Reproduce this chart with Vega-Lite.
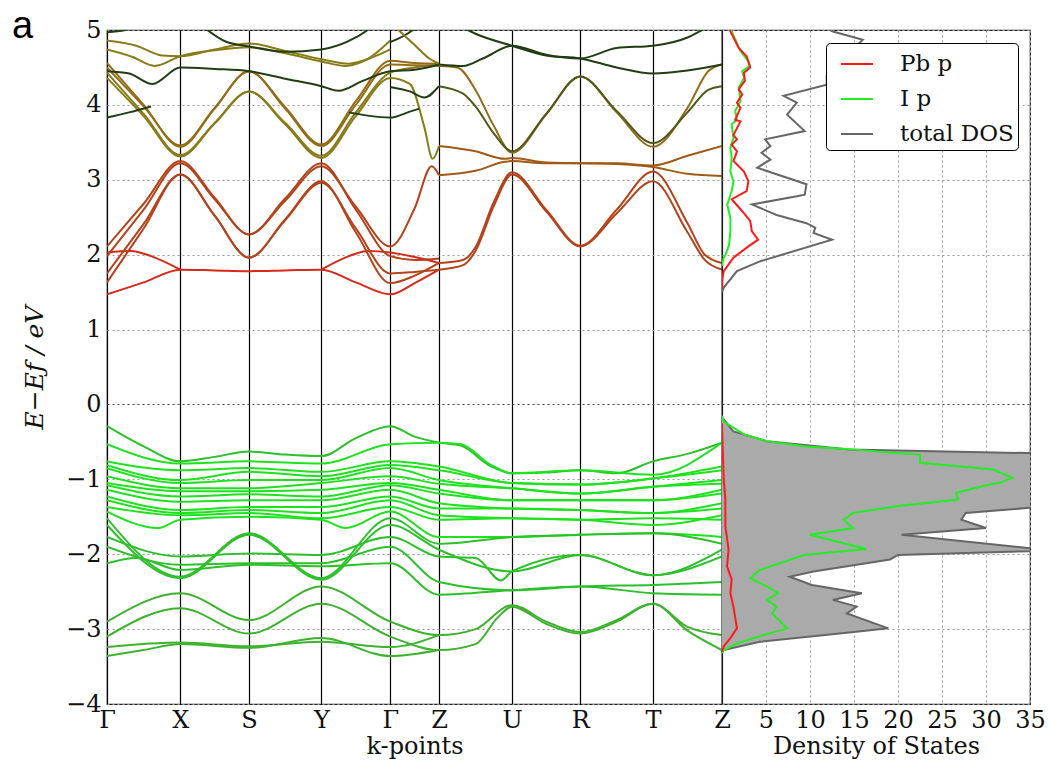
{
"$schema":"https://vega.github.io/schema/vega-lite/v6.json",
"background":"white",
"padding":{"left":12,"top":8,"right":0,"bottom":0},
"bounds":"flush",
"title":{"text":"a","anchor":"start","frame":"bounds","font":"Liberation Sans","fontSize":38,"fontWeight":"normal","color":"#000","offset":-29,"dx":-10},
"config":{"view":{"stroke":"#222","strokeWidth":1.2},"font":"DejaVu Serif",
"axis":{"labelFont":"DejaVu Serif","labelFontSize":24,"labelColor":"#111","titleFont":"DejaVu Serif","titleFontSize":24,"titleFontWeight":"normal","titleColor":"#111"}},
"spacing":0,
"resolve":{"scale":{"color":"independent","x":"independent","y":"independent"}},
"datasets":{
"bands":[
{"b":"L1","ch":"c1","k":0,"e":1.47},{"b":"L1","ch":"c1","k":0.5,"e":1.63},{"b":"L1","ch":"c1","k":1,"e":1.8},{"b":"L1","ch":"c1","k":1.5,"e":1.79},{"b":"L1","ch":"c1","k":2,"e":1.78},{"b":"L1","ch":"c1","k":2.5,"e":1.79},{"b":"L1","ch":"c1","k":3,"e":1.8},{"b":"L1","ch":"c1","k":3.5,"e":1.63},{"b":"L1","ch":"c1","k":4,"e":1.47},{"b":"L1","ch":"c1","k":4.5,"e":1.62},{"b":"L1","ch":"c1","k":5,"e":1.8},
{"b":"L2a","ch":"c1","k":0,"e":2.03},{"b":"L2a","ch":"c1","k":0.33,"e":2.05},{"b":"L2a","ch":"c1","k":0.6,"e":1.98},{"b":"L2a","ch":"c1","k":1,"e":1.8},
{"b":"L2b","ch":"c1","k":3,"e":1.8},{"b":"L2b","ch":"c1","k":3.4,"e":1.98},{"b":"L2b","ch":"c1","k":3.67,"e":2.05},{"b":"L2b","ch":"c1","k":4,"e":2.03},{"b":"L2b","ch":"c1","k":4.5,"e":1.97},{"b":"L2b","ch":"c1","k":5,"e":1.89},
{"b":"R1","ch":"c2","k":0,"e":1.63},{"b":"R1","ch":"c2","k":0.5,"e":2.35},{"b":"R1","ch":"c2","k":1,"e":3.07},{"b":"R1","ch":"c2","k":1.5,"e":2.52},{"b":"R1","ch":"c2","k":2,"e":1.96},{"b":"R1","ch":"c2","k":2.5,"e":2.46},{"b":"R1","ch":"c2","k":3,"e":2.96},{"b":"R1","ch":"c2","k":3.5,"e":2.35},{"b":"R1","ch":"c2","k":4,"e":1.75},{"b":"R1","ch":"c2","k":4.5,"e":1.77},{"b":"R1","ch":"c2","k":5,"e":1.8},
{"b":"R2","ch":"c2","k":0,"e":1.75},{"b":"R2","ch":"c2","k":0.5,"e":2.41},{"b":"R2","ch":"c2","k":1,"e":3.07},{"b":"R2","ch":"c2","k":1.5,"e":2.52},{"b":"R2","ch":"c2","k":2,"e":1.96},{"b":"R2","ch":"c2","k":2.5,"e":2.47},{"b":"R2","ch":"c2","k":3,"e":2.98},{"b":"R2","ch":"c2","k":3.5,"e":2.3},{"b":"R2","ch":"c2","k":4,"e":1.62},{"b":"R2","ch":"c2","k":4.5,"e":1.72},{"b":"R2","ch":"c2","k":5,"e":1.89},
{"b":"R3","ch":"c2","k":0,"e":1.98},{"b":"R3","ch":"c2","k":0.5,"e":2.6},{"b":"R3","ch":"c2","k":1,"e":3.22},{"b":"R3","ch":"c2","k":1.5,"e":2.74},{"b":"R3","ch":"c2","k":2,"e":2.27},{"b":"R3","ch":"c2","k":2.5,"e":2.72},{"b":"R3","ch":"c2","k":3,"e":3.18},{"b":"R3","ch":"c2","k":3.5,"e":2.64},{"b":"R3","ch":"c2","k":4,"e":2.11},{"b":"R3","ch":"c2","k":4.5,"e":2.62},{"b":"R3","ch":"c2","k":4.85,"e":3.18},{"b":"R3","ch":"c2","k":5,"e":3.06},
{"b":"R4","ch":"c2","k":0,"e":2.11},{"b":"R4","ch":"c2","k":0.5,"e":2.68},{"b":"R4","ch":"c2","k":1,"e":3.25},{"b":"R4","ch":"c2","k":1.5,"e":2.76},{"b":"R4","ch":"c2","k":2,"e":2.27},{"b":"R4","ch":"c2","k":2.5,"e":2.75},{"b":"R4","ch":"c2","k":3,"e":3.22},{"b":"R4","ch":"c2","k":3.5,"e":2.6},{"b":"R4","ch":"c2","k":4,"e":1.98},{"b":"R4","ch":"c2","k":4.5,"e":1.93},{"b":"R4","ch":"c2","k":5,"e":1.95},
{"b":"P7","ch":"c2","k":5,"e":1.8},{"b":"P7","ch":"c2","k":5.33,"e":1.86},{"b":"P7","ch":"c2","k":5.5,"e":2.05},{"b":"P7","ch":"c2","k":5.75,"e":2.65},{"b":"P7","ch":"c2","k":6,"e":3.07},{"b":"P7","ch":"c2","k":6.5,"e":2.58},{"b":"P7","ch":"c2","k":7,"e":2.11},{"b":"P7","ch":"c2","k":7.5,"e":2.55},{"b":"P7","ch":"c2","k":8,"e":2.98},{"b":"P7","ch":"c2","k":8.5,"e":2.3},{"b":"P7","ch":"c2","k":8.75,"e":1.93},{"b":"P7","ch":"c2","k":9,"e":1.8},
{"b":"P8","ch":"c2","k":5,"e":1.89},{"b":"P8","ch":"c2","k":5.33,"e":1.93},{"b":"P8","ch":"c2","k":5.5,"e":2.1},{"b":"P8","ch":"c2","k":5.75,"e":2.7},{"b":"P8","ch":"c2","k":6,"e":3.1},{"b":"P8","ch":"c2","k":6.5,"e":2.6},{"b":"P8","ch":"c2","k":7,"e":2.12},{"b":"P8","ch":"c2","k":7.5,"e":2.6},{"b":"P8","ch":"c2","k":8,"e":3.11},{"b":"P8","ch":"c2","k":8.5,"e":2.42},{"b":"P8","ch":"c2","k":8.75,"e":2.0},{"b":"P8","ch":"c2","k":9,"e":1.89},
{"b":"P9","ch":"c3","k":5,"e":3.06},{"b":"P9","ch":"c3","k":5.5,"e":3.12},{"b":"P9","ch":"c3","k":5.9,"e":3.24},{"b":"P9","ch":"c3","k":6,"e":3.25},{"b":"P9","ch":"c3","k":6.5,"e":3.22},{"b":"P9","ch":"c3","k":7,"e":3.22},{"b":"P9","ch":"c3","k":7.5,"e":3.21},{"b":"P9","ch":"c3","k":8,"e":3.17},{"b":"P9","ch":"c3","k":8.5,"e":3.08},{"b":"P9","ch":"c3","k":9,"e":3.05},
{"b":"P10","ch":"c3","k":5,"e":3.45},{"b":"P10","ch":"c3","k":5.5,"e":3.38},{"b":"P10","ch":"c3","k":5.9,"e":3.28},{"b":"P10","ch":"c3","k":6,"e":3.29},{"b":"P10","ch":"c3","k":6.5,"e":3.23},{"b":"P10","ch":"c3","k":7,"e":3.22},{"b":"P10","ch":"c3","k":7.5,"e":3.22},{"b":"P10","ch":"c3","k":8,"e":3.19},{"b":"P10","ch":"c3","k":8.5,"e":3.32},{"b":"P10","ch":"c3","k":9,"e":3.45},
{"b":"P11","ch":"c4","k":5,"e":4.52},{"b":"P11","ch":"c4","k":5.25,"e":4.5},{"b":"P11","ch":"c4","k":5.5,"e":4.2},{"b":"P11","ch":"c4","k":5.75,"e":3.72},{"b":"P11","ch":"c4","k":6,"e":3.36},{"b":"P11","ch":"c4","k":6.5,"e":3.87},{"b":"P11","ch":"c4","k":7,"e":4.38},{"b":"P11","ch":"c4","k":7.5,"e":3.9},{"b":"P11","ch":"c4","k":8,"e":3.44},{"b":"P11","ch":"c4","k":8.5,"e":3.96},{"b":"P11","ch":"c4","k":8.8,"e":4.45},{"b":"P11","ch":"c4","k":9,"e":4.54},
{"b":"P12","ch":"c6","k":5,"e":4.25},{"b":"P12","ch":"c6","k":5.33,"e":4.15},{"b":"P12","ch":"c6","k":5.5,"e":3.98},{"b":"P12","ch":"c6","k":5.75,"e":3.62},{"b":"P12","ch":"c6","k":6,"e":3.38},{"b":"P12","ch":"c6","k":6.5,"e":3.88},{"b":"P12","ch":"c6","k":7,"e":4.38},{"b":"P12","ch":"c6","k":7.5,"e":3.92},{"b":"P12","ch":"c6","k":8,"e":3.49},{"b":"P12","ch":"c6","k":8.5,"e":3.9},{"b":"P12","ch":"c6","k":8.8,"e":4.2},{"b":"P12","ch":"c6","k":9,"e":4.25},
{"b":"P13","ch":"c7","k":5.35,"e":5.02},{"b":"P13","ch":"c7","k":5.5,"e":4.95},{"b":"P13","ch":"c7","k":6,"e":4.79},{"b":"P13","ch":"c7","k":6.5,"e":4.66},{"b":"P13","ch":"c7","k":7,"e":4.62},{"b":"P13","ch":"c7","k":7.5,"e":4.5},{"b":"P13","ch":"c7","k":8,"e":4.42},{"b":"P13","ch":"c7","k":8.5,"e":4.46},{"b":"P13","ch":"c7","k":9,"e":4.54},
{"b":"P14","ch":"c7","k":5,"e":4.54},{"b":"P14","ch":"c7","k":5.33,"e":4.52},{"b":"P14","ch":"c7","k":5.6,"e":4.62},{"b":"P14","ch":"c7","k":6,"e":4.79},{"b":"P14","ch":"c7","k":6.5,"e":4.67},{"b":"P14","ch":"c7","k":7,"e":4.62},{"b":"P14","ch":"c7","k":7.5,"e":4.76},{"b":"P14","ch":"c7","k":8,"e":4.79},{"b":"P14","ch":"c7","k":8.5,"e":4.9},{"b":"P14","ch":"c7","k":8.75,"e":5.02},
{"b":"D1","ch":"c5","k":0,"e":4.36},{"b":"D1","ch":"c5","k":0.5,"e":3.85},{"b":"D1","ch":"c5","k":1,"e":3.31},{"b":"D1","ch":"c5","k":1.5,"e":3.75},{"b":"D1","ch":"c5","k":2,"e":4.18},{"b":"D1","ch":"c5","k":2.5,"e":3.74},{"b":"D1","ch":"c5","k":3,"e":3.29},{"b":"D1","ch":"c5","k":3.5,"e":3.85},{"b":"D1","ch":"c5","k":4,"e":4.36},{"b":"D1","ch":"c5","k":4.4,"e":4.28},{"b":"D1","ch":"c5","k":4.7,"e":3.7},{"b":"D1","ch":"c5","k":4.87,"e":3.28},{"b":"D1","ch":"c5","k":5,"e":3.45},
{"b":"D2","ch":"c5","k":0,"e":4.43},{"b":"D2","ch":"c5","k":0.5,"e":3.88},{"b":"D2","ch":"c5","k":1,"e":3.33},{"b":"D2","ch":"c5","k":1.5,"e":3.76},{"b":"D2","ch":"c5","k":2,"e":4.18},{"b":"D2","ch":"c5","k":2.5,"e":3.76},{"b":"D2","ch":"c5","k":3,"e":3.32},{"b":"D2","ch":"c5","k":3.5,"e":3.9},{"b":"D2","ch":"c5","k":4,"e":4.43},{"b":"D2","ch":"c5","k":4.5,"e":4.5},{"b":"D2","ch":"c5","k":5,"e":4.54},
{"b":"D3","ch":"c4","k":0,"e":4.56},{"b":"D3","ch":"c4","k":0.5,"e":4.0},{"b":"D3","ch":"c4","k":1,"e":3.44},{"b":"D3","ch":"c4","k":1.5,"e":3.95},{"b":"D3","ch":"c4","k":2,"e":4.45},{"b":"D3","ch":"c4","k":2.5,"e":3.95},{"b":"D3","ch":"c4","k":3,"e":3.45},{"b":"D3","ch":"c4","k":3.5,"e":4.0},{"b":"D3","ch":"c4","k":4,"e":4.54},{"b":"D3","ch":"c4","k":4.5,"e":4.53},{"b":"D3","ch":"c4","k":5,"e":4.52},
{"b":"D4","ch":"c4","k":0,"e":4.5},{"b":"D4","ch":"c4","k":0.5,"e":3.98},{"b":"D4","ch":"c4","k":1,"e":3.46},{"b":"D4","ch":"c4","k":1.5,"e":3.96},{"b":"D4","ch":"c4","k":2,"e":4.45},{"b":"D4","ch":"c4","k":2.5,"e":3.97},{"b":"D4","ch":"c4","k":3,"e":3.47},{"b":"D4","ch":"c4","k":3.5,"e":4.05},{"b":"D4","ch":"c4","k":4,"e":4.59},{"b":"D4","ch":"c4","k":4.5,"e":4.56},{"b":"D4","ch":"c4","k":5,"e":4.55},
{"b":"P16","ch":"c5","k":0,"e":4.86},{"b":"P16","ch":"c5","k":0.4,"e":4.79},{"b":"P16","ch":"c5","k":0.75,"e":4.66},{"b":"P16","ch":"c5","k":1,"e":4.65},{"b":"P16","ch":"c5","k":1.5,"e":4.74},{"b":"P16","ch":"c5","k":2,"e":4.82},{"b":"P16","ch":"c5","k":2.5,"e":4.72},{"b":"P16","ch":"c5","k":3,"e":4.61},{"b":"P16","ch":"c5","k":3.4,"e":4.55},{"b":"P16","ch":"c5","k":3.7,"e":4.62},{"b":"P16","ch":"c5","k":4,"e":4.74},
{"b":"P17","ch":"c5","k":0,"e":4.74},{"b":"P17","ch":"c5","k":0.35,"e":4.64},{"b":"P17","ch":"c5","k":0.65,"e":4.52},{"b":"P17","ch":"c5","k":1,"e":4.65},{"b":"P17","ch":"c5","k":1.5,"e":4.73},{"b":"P17","ch":"c5","k":2,"e":4.77},{"b":"P17","ch":"c5","k":2.5,"e":4.69},{"b":"P17","ch":"c5","k":3,"e":4.58},{"b":"P17","ch":"c5","k":3.35,"e":4.52},{"b":"P17","ch":"c5","k":3.65,"e":4.6},{"b":"P17","ch":"c5","k":4,"e":4.86},
{"b":"P18","ch":"c7","k":0,"e":4.45},{"b":"P18","ch":"c7","k":0.3,"e":4.42},{"b":"P18","ch":"c7","k":0.62,"e":4.28},{"b":"P18","ch":"c7","k":1,"e":4.5},{"b":"P18","ch":"c7","k":1.5,"e":4.48},{"b":"P18","ch":"c7","k":2,"e":4.45},{"b":"P18","ch":"c7","k":2.5,"e":4.35},{"b":"P18","ch":"c7","k":3,"e":4.25},{"b":"P18","ch":"c7","k":3.25,"e":4.19},{"b":"P18","ch":"c7","k":3.6,"e":4.32},{"b":"P18","ch":"c7","k":4,"e":4.45},{"b":"P18","ch":"c7","k":4.5,"e":4.47},{"b":"P18","ch":"c7","k":5,"e":4.54},
{"b":"P19","ch":"c7","k":1.35,"e":5.03},{"b":"P19","ch":"c7","k":1.65,"e":4.85},{"b":"P19","ch":"c7","k":2,"e":4.78},{"b":"P19","ch":"c7","k":2.5,"e":4.71},{"b":"P19","ch":"c7","k":3,"e":4.74},{"b":"P19","ch":"c7","k":3.5,"e":4.9},{"b":"P19","ch":"c7","k":3.72,"e":5.03},
{"b":"P20a","ch":"c7","k":0,"e":3.83},{"b":"P20a","ch":"c7","k":0.3,"e":3.9},{"b":"P20a","ch":"c7","k":0.6,"e":3.98},
{"b":"P20b","ch":"c7","k":3.4,"e":3.9},{"b":"P20b","ch":"c7","k":3.65,"e":3.86},{"b":"P20b","ch":"c7","k":4,"e":3.83},{"b":"P20b","ch":"c7","k":4.4,"e":3.91},{"b":"P20b","ch":"c7","k":4.6,"e":3.95},
{"b":"P21a","ch":"c7","k":0,"e":4.97},{"b":"P21a","ch":"c7","k":0.25,"e":5.0},{"b":"P21a","ch":"c7","k":0.45,"e":5.06},
{"b":"P21b","ch":"c7","k":4,"e":4.84},{"b":"P21b","ch":"c7","k":4.3,"e":4.93},{"b":"P21b","ch":"c7","k":4.55,"e":5.04},
{"b":"P22","ch":"c5","k":4.1,"e":5.04},{"b":"P22","ch":"c5","k":4.5,"e":4.8},{"b":"P22","ch":"c5","k":4.8,"e":4.62},{"b":"P22","ch":"c5","k":5,"e":4.55},
{"b":"P24","ch":"c7","k":4,"e":4.24},{"b":"P24","ch":"c7","k":4.4,"e":4.18},{"b":"P24","ch":"c7","k":4.7,"e":4.1},{"b":"P24","ch":"c7","k":5,"e":4.25},
{"b":"V1","ch":"v2","k":0,"e":-0.29},{"b":"V1","ch":"v2","k":0.5,"e":-0.56},{"b":"V1","ch":"v2","k":1,"e":-0.76},{"b":"V1","ch":"v2","k":1.5,"e":-0.7},{"b":"V1","ch":"v2","k":2,"e":-0.63},{"b":"V1","ch":"v2","k":2.5,"e":-0.67},{"b":"V1","ch":"v2","k":3,"e":-0.69},{"b":"V1","ch":"v2","k":3.5,"e":-0.45},{"b":"V1","ch":"v2","k":4,"e":-0.29},{"b":"V1","ch":"v2","k":4.5,"e":-0.43},{"b":"V1","ch":"v2","k":5,"e":-0.51},{"b":"V1","ch":"v2","k":5.3,"e":-0.55},{"b":"V1","ch":"v2","k":5.7,"e":-0.82},{"b":"V1","ch":"v2","k":6,"e":-0.92},{"b":"V1","ch":"v2","k":6.5,"e":-0.91},{"b":"V1","ch":"v2","k":7,"e":-0.88},{"b":"V1","ch":"v2","k":7.5,"e":-0.92},{"b":"V1","ch":"v2","k":8,"e":-0.76},{"b":"V1","ch":"v2","k":8.5,"e":-0.66},{"b":"V1","ch":"v2","k":9,"e":-0.51},
{"b":"V2","ch":"v1","k":0,"e":-0.53},{"b":"V2","ch":"v1","k":1,"e":-0.79},{"b":"V2","ch":"v1","k":2,"e":-0.76},{"b":"V2","ch":"v1","k":3,"e":-0.79},{"b":"V2","ch":"v1","k":4,"e":-0.53},{"b":"V2","ch":"v1","k":5,"e":-0.51},{"b":"V2","ch":"v1","k":5.3,"e":-0.53},{"b":"V2","ch":"v1","k":5.7,"e":-0.8},{"b":"V2","ch":"v1","k":6,"e":-0.92},{"b":"V2","ch":"v1","k":7,"e":-0.88},{"b":"V2","ch":"v1","k":8,"e":-0.94},{"b":"V2","ch":"v1","k":9,"e":-0.51},
{"b":"V3","ch":"v1","k":0,"e":-0.76},{"b":"V3","ch":"v1","k":1,"e":-0.88},{"b":"V3","ch":"v1","k":2,"e":-0.85},{"b":"V3","ch":"v1","k":3,"e":-0.9},{"b":"V3","ch":"v1","k":4,"e":-0.76},{"b":"V3","ch":"v1","k":5,"e":-0.83},{"b":"V3","ch":"v1","k":6,"e":-1.05},{"b":"V3","ch":"v1","k":7,"e":-1.07},{"b":"V3","ch":"v1","k":8,"e":-0.99},{"b":"V3","ch":"v1","k":9,"e":-0.83},
{"b":"V4","ch":"v1","k":0,"e":-0.81},{"b":"V4","ch":"v1","k":1,"e":-1.01},{"b":"V4","ch":"v1","k":2,"e":-0.9},{"b":"V4","ch":"v1","k":3,"e":-0.96},{"b":"V4","ch":"v1","k":4,"e":-0.81},{"b":"V4","ch":"v1","k":5,"e":-0.88},{"b":"V4","ch":"v1","k":6,"e":-1.05},{"b":"V4","ch":"v1","k":7,"e":-1.07},{"b":"V4","ch":"v1","k":8,"e":-0.99},{"b":"V4","ch":"v1","k":9,"e":-0.88},
{"b":"V5","ch":"v1","k":0,"e":-0.85},{"b":"V5","ch":"v1","k":1,"e":-1.05},{"b":"V5","ch":"v1","k":2,"e":-1.01},{"b":"V5","ch":"v1","k":3,"e":-1.01},{"b":"V5","ch":"v1","k":4,"e":-0.85},{"b":"V5","ch":"v1","k":5,"e":-1.01},{"b":"V5","ch":"v1","k":6,"e":-1.12},{"b":"V5","ch":"v1","k":7,"e":-1.19},{"b":"V5","ch":"v1","k":8,"e":-1.1},{"b":"V5","ch":"v1","k":9,"e":-1.01},
{"b":"V6","ch":"v1","k":0,"e":-0.96},{"b":"V6","ch":"v1","k":1,"e":-1.12},{"b":"V6","ch":"v1","k":2,"e":-1.12},{"b":"V6","ch":"v1","k":3,"e":-1.05},{"b":"V6","ch":"v1","k":4,"e":-0.96},{"b":"V6","ch":"v1","k":5,"e":-1.06},{"b":"V6","ch":"v1","k":6,"e":-1.12},{"b":"V6","ch":"v1","k":7,"e":-1.19},{"b":"V6","ch":"v1","k":8,"e":-1.1},{"b":"V6","ch":"v1","k":9,"e":-1.06},
{"b":"V7","ch":"v1","k":0,"e":-1.05},{"b":"V7","ch":"v1","k":1,"e":-1.16},{"b":"V7","ch":"v1","k":2,"e":-1.16},{"b":"V7","ch":"v1","k":3,"e":-1.14},{"b":"V7","ch":"v1","k":4,"e":-1.05},{"b":"V7","ch":"v1","k":5,"e":-1.14},{"b":"V7","ch":"v1","k":6,"e":-1.28},{"b":"V7","ch":"v1","k":7,"e":-1.28},{"b":"V7","ch":"v1","k":8,"e":-1.28},{"b":"V7","ch":"v1","k":9,"e":-1.14},
{"b":"V8","ch":"v1","k":0,"e":-1.08},{"b":"V8","ch":"v1","k":1,"e":-1.23},{"b":"V8","ch":"v1","k":2,"e":-1.2},{"b":"V8","ch":"v1","k":3,"e":-1.23},{"b":"V8","ch":"v1","k":4,"e":-1.08},{"b":"V8","ch":"v1","k":5,"e":-1.19},{"b":"V8","ch":"v1","k":6,"e":-1.28},{"b":"V8","ch":"v1","k":7,"e":-1.28},{"b":"V8","ch":"v1","k":8,"e":-1.28},{"b":"V8","ch":"v1","k":9,"e":-1.19},
{"b":"V9","ch":"v1","k":0,"e":-1.14},{"b":"V9","ch":"v1","k":1,"e":-1.3},{"b":"V9","ch":"v1","k":2,"e":-1.28},{"b":"V9","ch":"v1","k":3,"e":-1.28},{"b":"V9","ch":"v1","k":4,"e":-1.14},{"b":"V9","ch":"v1","k":5,"e":-1.32},{"b":"V9","ch":"v1","k":6,"e":-1.39},{"b":"V9","ch":"v1","k":7,"e":-1.41},{"b":"V9","ch":"v1","k":8,"e":-1.45},{"b":"V9","ch":"v1","k":9,"e":-1.32},
{"b":"V10","ch":"v1","k":0,"e":-1.23},{"b":"V10","ch":"v1","k":1,"e":-1.41},{"b":"V10","ch":"v1","k":2,"e":-1.37},{"b":"V10","ch":"v1","k":3,"e":-1.37},{"b":"V10","ch":"v1","k":4,"e":-1.23},{"b":"V10","ch":"v1","k":5,"e":-1.39},{"b":"V10","ch":"v1","k":6,"e":-1.39},{"b":"V10","ch":"v1","k":7,"e":-1.41},{"b":"V10","ch":"v1","k":8,"e":-1.45},{"b":"V10","ch":"v1","k":9,"e":-1.39},
{"b":"V11","ch":"v1","k":0,"e":-1.28},{"b":"V11","ch":"v1","k":1,"e":-1.45},{"b":"V11","ch":"v1","k":2,"e":-1.41},{"b":"V11","ch":"v1","k":3,"e":-1.45},{"b":"V11","ch":"v1","k":4,"e":-1.28},{"b":"V11","ch":"v1","k":5,"e":-1.48},{"b":"V11","ch":"v1","k":6,"e":-1.52},{"b":"V11","ch":"v1","k":7,"e":-1.54},{"b":"V11","ch":"v1","k":8,"e":-1.61},{"b":"V11","ch":"v1","k":9,"e":-1.48},
{"b":"V12","ch":"v1","k":0,"e":-1.37},{"b":"V12","ch":"v1","k":1,"e":-1.48},{"b":"V12","ch":"v1","k":2,"e":-1.45},{"b":"V12","ch":"v1","k":3,"e":-1.52},{"b":"V12","ch":"v1","k":4,"e":-1.37},{"b":"V12","ch":"v1","k":5,"e":-1.54},{"b":"V12","ch":"v1","k":6,"e":-1.52},{"b":"V12","ch":"v1","k":7,"e":-1.54},{"b":"V12","ch":"v1","k":8,"e":-1.52},{"b":"V12","ch":"v1","k":9,"e":-1.54},
{"b":"V13","ch":"v1","k":0,"e":-1.43},{"b":"V13","ch":"v1","k":0.7,"e":-1.65},{"b":"V13","ch":"v1","k":1,"e":-1.54},{"b":"V13","ch":"v1","k":2,"e":-1.5},{"b":"V13","ch":"v1","k":3,"e":-1.54},{"b":"V13","ch":"v1","k":3.35,"e":-1.65},{"b":"V13","ch":"v1","k":4,"e":-1.43},{"b":"V13","ch":"v1","k":5,"e":-1.77},{"b":"V13","ch":"v1","k":6,"e":-1.77},{"b":"V13","ch":"v1","k":7,"e":-1.74},{"b":"V13","ch":"v1","k":8,"e":-1.72},{"b":"V13","ch":"v1","k":9,"e":-1.77},
{"b":"V14","ch":"v2","k":0,"e":-1.52},{"b":"V14","ch":"v2","k":1,"e":-2.3},{"b":"V14","ch":"v2","k":2,"e":-1.72},{"b":"V14","ch":"v2","k":3,"e":-2.32},{"b":"V14","ch":"v2","k":4,"e":-1.52},{"b":"V14","ch":"v2","k":5,"e":-1.86},{"b":"V14","ch":"v2","k":6,"e":-1.77},{"b":"V14","ch":"v2","k":7,"e":-1.74},{"b":"V14","ch":"v2","k":8,"e":-1.72},{"b":"V14","ch":"v2","k":9,"e":-1.86},
{"b":"V15","ch":"v2","k":0,"e":-1.61},{"b":"V15","ch":"v2","k":1,"e":-2.32},{"b":"V15","ch":"v2","k":2,"e":-1.74},{"b":"V15","ch":"v2","k":3,"e":-2.34},{"b":"V15","ch":"v2","k":4,"e":-1.61},{"b":"V15","ch":"v2","k":5,"e":-1.94},{"b":"V15","ch":"v2","k":6,"e":-2.23},{"b":"V15","ch":"v2","k":7,"e":-2.01},{"b":"V15","ch":"v2","k":8,"e":-2.28},{"b":"V15","ch":"v2","k":9,"e":-1.94},
{"b":"V16","ch":"v2","k":0,"e":-1.77},{"b":"V16","ch":"v2","k":1,"e":-2.03},{"b":"V16","ch":"v2","k":2,"e":-1.99},{"b":"V16","ch":"v2","k":3,"e":-2.01},{"b":"V16","ch":"v2","k":4,"e":-1.77},{"b":"V16","ch":"v2","k":5,"e":-2.03},{"b":"V16","ch":"v2","k":5.5,"e":-2.05},{"b":"V16","ch":"v2","k":5.85,"e":-2.35},{"b":"V16","ch":"v2","k":6,"e":-2.23},{"b":"V16","ch":"v2","k":7,"e":-2.01},{"b":"V16","ch":"v2","k":8,"e":-2.28},{"b":"V16","ch":"v2","k":9,"e":-2.03},
{"b":"V17","ch":"v2","k":0,"e":-1.9},{"b":"V17","ch":"v2","k":1,"e":-2.14},{"b":"V17","ch":"v2","k":2,"e":-2.12},{"b":"V17","ch":"v2","k":3,"e":-2.12},{"b":"V17","ch":"v2","k":4,"e":-1.9},{"b":"V17","ch":"v2","k":5,"e":-2.37},{"b":"V17","ch":"v2","k":6,"e":-2.48},{"b":"V17","ch":"v2","k":7,"e":-2.43},{"b":"V17","ch":"v2","k":8,"e":-2.41},{"b":"V17","ch":"v2","k":9,"e":-2.37},
{"b":"V18","ch":"v2","k":0,"e":-2.12},{"b":"V18","ch":"v2","k":0.4,"e":-2.05},{"b":"V18","ch":"v2","k":1,"e":-2.21},{"b":"V18","ch":"v2","k":2,"e":-2.14},{"b":"V18","ch":"v2","k":3,"e":-2.16},{"b":"V18","ch":"v2","k":4,"e":-2.12},{"b":"V18","ch":"v2","k":5,"e":-2.54},{"b":"V18","ch":"v2","k":6,"e":-2.48},{"b":"V18","ch":"v2","k":7,"e":-2.43},{"b":"V18","ch":"v2","k":8,"e":-2.52},{"b":"V18","ch":"v2","k":9,"e":-2.54},
{"b":"V19","ch":"v3","k":0,"e":-2.9},{"b":"V19","ch":"v3","k":1,"e":-2.52},{"b":"V19","ch":"v3","k":2,"e":-2.88},{"b":"V19","ch":"v3","k":3,"e":-2.43},{"b":"V19","ch":"v3","k":4,"e":-2.9},{"b":"V19","ch":"v3","k":5,"e":-3.08},{"b":"V19","ch":"v3","k":5.5,"e":-3.0},{"b":"V19","ch":"v3","k":6,"e":-2.68},{"b":"V19","ch":"v3","k":6.5,"e":-2.9},{"b":"V19","ch":"v3","k":7,"e":-3.04},{"b":"V19","ch":"v3","k":7.5,"e":-2.88},{"b":"V19","ch":"v3","k":8,"e":-2.66},{"b":"V19","ch":"v3","k":8.5,"e":-2.97},{"b":"V19","ch":"v3","k":9,"e":-3.08},
{"b":"V20","ch":"v3","k":0,"e":-3.1},{"b":"V20","ch":"v3","k":1,"e":-2.72},{"b":"V20","ch":"v3","k":2,"e":-3.06},{"b":"V20","ch":"v3","k":3,"e":-2.66},{"b":"V20","ch":"v3","k":4,"e":-3.1},{"b":"V20","ch":"v3","k":5,"e":-3.28},{"b":"V20","ch":"v3","k":5.5,"e":-3.2},{"b":"V20","ch":"v3","k":5.8,"e":-2.85},{"b":"V20","ch":"v3","k":6,"e":-2.7},{"b":"V20","ch":"v3","k":6.5,"e":-2.93},{"b":"V20","ch":"v3","k":7,"e":-3.06},{"b":"V20","ch":"v3","k":7.5,"e":-2.9},{"b":"V20","ch":"v3","k":8,"e":-2.66},{"b":"V20","ch":"v3","k":8.5,"e":-3.02},{"b":"V20","ch":"v3","k":9,"e":-3.28},
{"b":"V21","ch":"v3","k":0,"e":-3.24},{"b":"V21","ch":"v3","k":1,"e":-3.18},{"b":"V21","ch":"v3","k":2,"e":-3.23},{"b":"V21","ch":"v3","k":3,"e":-3.17},{"b":"V21","ch":"v3","k":4,"e":-3.24},{"b":"V21","ch":"v3","k":5,"e":-3.08},
{"b":"V22","ch":"v3","k":0,"e":-3.36},{"b":"V22","ch":"v3","k":0.5,"e":-3.28},{"b":"V22","ch":"v3","k":1,"e":-3.2},{"b":"V22","ch":"v3","k":2,"e":-3.25},{"b":"V22","ch":"v3","k":3,"e":-3.12},{"b":"V22","ch":"v3","k":4,"e":-3.36},{"b":"V22","ch":"v3","k":5,"e":-3.28}
],
"dos":[
{"s":"total DOS","seg":"c","e":1.5,"d":0},{"s":"total DOS","seg":"c","e":1.56,"d":0.2},{"s":"total DOS","seg":"c","e":1.78,"d":1.7},{"s":"total DOS","seg":"c","e":1.91,"d":4.3},{"s":"total DOS","seg":"c","e":2.2,"d":12.5},{"s":"total DOS","seg":"c","e":2.29,"d":10.4},{"s":"total DOS","seg":"c","e":2.36,"d":10.6},{"s":"total DOS","seg":"c","e":2.42,"d":9.6},{"s":"total DOS","seg":"c","e":2.53,"d":6.2},{"s":"total DOS","seg":"c","e":2.67,"d":3.4},{"s":"total DOS","seg":"c","e":2.78,"d":8.5},{"s":"total DOS","seg":"c","e":2.8,"d":9.4},{"s":"total DOS","seg":"c","e":2.94,"d":9.6},{"s":"total DOS","seg":"c","e":3.16,"d":4.0},{"s":"total DOS","seg":"c","e":3.27,"d":5.5},{"s":"total DOS","seg":"c","e":3.36,"d":4.5},{"s":"total DOS","seg":"c","e":3.45,"d":5.5},{"s":"total DOS","seg":"c","e":3.54,"d":4.9},{"s":"total DOS","seg":"c","e":3.65,"d":9.4},{"s":"total DOS","seg":"c","e":3.87,"d":7.4},{"s":"total DOS","seg":"c","e":4.03,"d":8.5},{"s":"total DOS","seg":"c","e":4.12,"d":7.0},{"s":"total DOS","seg":"c","e":4.27,"d":11.9},{"s":"total DOS","seg":"c","e":4.41,"d":11.9},{"s":"total DOS","seg":"c","e":4.87,"d":16.0},{"s":"total DOS","seg":"c","e":4.98,"d":12.6},{"s":"total DOS","seg":"c","e":5.1,"d":10.5},
{"s":"total DOS","seg":"v","e":-0.18,"d":0},{"s":"total DOS","seg":"v","e":-0.2,"d":0.2},{"s":"total DOS","seg":"v","e":-0.36,"d":1.3},{"s":"total DOS","seg":"v","e":-0.49,"d":5.1},{"s":"total DOS","seg":"v","e":-0.6,"d":14.5},{"s":"total DOS","seg":"v","e":-0.65,"d":34.9},{"s":"total DOS","seg":"v","e":-0.7,"d":45},{"s":"total DOS","seg":"v","e":-1.3,"d":45},{"s":"total DOS","seg":"v","e":-1.38,"d":34.9},{"s":"total DOS","seg":"v","e":-1.45,"d":27.7},{"s":"total DOS","seg":"v","e":-1.54,"d":27.2},{"s":"total DOS","seg":"v","e":-1.65,"d":30.0},{"s":"total DOS","seg":"v","e":-1.74,"d":20.4},{"s":"total DOS","seg":"v","e":-1.92,"d":35},{"s":"total DOS","seg":"v","e":-1.94,"d":37},{"s":"total DOS","seg":"v","e":-1.96,"d":35},{"s":"total DOS","seg":"v","e":-2.01,"d":20.0},{"s":"total DOS","seg":"v","e":-2.07,"d":19.1},{"s":"total DOS","seg":"v","e":-2.23,"d":10.4},{"s":"total DOS","seg":"v","e":-2.3,"d":7.7},{"s":"total DOS","seg":"v","e":-2.41,"d":10.2},{"s":"total DOS","seg":"v","e":-2.52,"d":15.9},{"s":"total DOS","seg":"v","e":-2.61,"d":12.6},{"s":"total DOS","seg":"v","e":-2.7,"d":15.3},{"s":"total DOS","seg":"v","e":-2.79,"d":14.2},{"s":"total DOS","seg":"v","e":-2.99,"d":18.9},{"s":"total DOS","seg":"v","e":-3.05,"d":14.2},{"s":"total DOS","seg":"v","e":-3.17,"d":4.3},{"s":"total DOS","seg":"v","e":-3.28,"d":0.2},{"s":"total DOS","seg":"v","e":-3.32,"d":0},
{"s":"I p","seg":"c","e":1.85,"d":0},{"s":"I p","seg":"c","e":1.96,"d":0.2},{"s":"I p","seg":"c","e":2.0,"d":0.4},{"s":"I p","seg":"c","e":2.13,"d":0.8},{"s":"I p","seg":"c","e":2.31,"d":0.95},{"s":"I p","seg":"c","e":2.49,"d":0.95},{"s":"I p","seg":"c","e":2.67,"d":0.6},{"s":"I p","seg":"c","e":2.85,"d":1.1},{"s":"I p","seg":"c","e":2.98,"d":1.3},{"s":"I p","seg":"c","e":3.11,"d":0.95},{"s":"I p","seg":"c","e":3.29,"d":1.1},{"s":"I p","seg":"c","e":3.43,"d":0.95},{"s":"I p","seg":"c","e":3.56,"d":1.3},{"s":"I p","seg":"c","e":3.74,"d":1.1},{"s":"I p","seg":"c","e":3.8,"d":1.7},{"s":"I p","seg":"c","e":3.92,"d":1.5},{"s":"I p","seg":"c","e":4.05,"d":2.1},{"s":"I p","seg":"c","e":4.23,"d":1.9},{"s":"I p","seg":"c","e":4.36,"d":2.5},{"s":"I p","seg":"c","e":4.45,"d":2.3},{"s":"I p","seg":"c","e":4.52,"d":3.2},{"s":"I p","seg":"c","e":4.58,"d":3.0},{"s":"I p","seg":"c","e":4.72,"d":2.1},{"s":"I p","seg":"c","e":4.98,"d":1.1},{"s":"I p","seg":"c","e":5.1,"d":0.8},
{"s":"I p","seg":"v","e":-0.15,"d":0},{"s":"I p","seg":"v","e":-0.23,"d":0.2},{"s":"I p","seg":"v","e":-0.4,"d":2.5},{"s":"I p","seg":"v","e":-0.49,"d":5.1},{"s":"I p","seg":"v","e":-0.56,"d":9.6},{"s":"I p","seg":"v","e":-0.6,"d":14.9},{"s":"I p","seg":"v","e":-0.65,"d":19.8},{"s":"I p","seg":"v","e":-0.67,"d":22.5},{"s":"I p","seg":"v","e":-0.78,"d":22.5},{"s":"I p","seg":"v","e":-0.87,"d":30.8},{"s":"I p","seg":"v","e":-0.98,"d":33.0},{"s":"I p","seg":"v","e":-1.05,"d":31.5},{"s":"I p","seg":"v","e":-1.07,"d":30.4},{"s":"I p","seg":"v","e":-1.18,"d":26.6},{"s":"I p","seg":"v","e":-1.27,"d":26.8},{"s":"I p","seg":"v","e":-1.36,"d":19.8},{"s":"I p","seg":"v","e":-1.45,"d":14.9},{"s":"I p","seg":"v","e":-1.54,"d":13.8},{"s":"I p","seg":"v","e":-1.65,"d":14.9},{"s":"I p","seg":"v","e":-1.74,"d":10.0},{"s":"I p","seg":"v","e":-1.93,"d":16.4},{"s":"I p","seg":"v","e":-2.01,"d":9.3},{"s":"I p","seg":"v","e":-2.21,"d":4.3},{"s":"I p","seg":"v","e":-2.32,"d":3.2},{"s":"I p","seg":"v","e":-2.43,"d":5.1},{"s":"I p","seg":"v","e":-2.52,"d":6.4},{"s":"I p","seg":"v","e":-2.61,"d":5.1},{"s":"I p","seg":"v","e":-2.7,"d":6.2},{"s":"I p","seg":"v","e":-2.79,"d":5.7},{"s":"I p","seg":"v","e":-2.99,"d":7.4},{"s":"I p","seg":"v","e":-3.08,"d":4.7},{"s":"I p","seg":"v","e":-3.19,"d":1.7},{"s":"I p","seg":"v","e":-3.28,"d":0.2},{"s":"I p","seg":"v","e":-3.32,"d":0},
{"s":"Pb p","seg":"c","e":1.55,"d":0},{"s":"Pb p","seg":"c","e":1.69,"d":0.05},{"s":"Pb p","seg":"c","e":1.78,"d":0.2},{"s":"Pb p","seg":"c","e":1.96,"d":1.3},{"s":"Pb p","seg":"c","e":2.11,"d":3.0},{"s":"Pb p","seg":"c","e":2.2,"d":4.1},{"s":"Pb p","seg":"c","e":2.31,"d":3.4},{"s":"Pb p","seg":"c","e":2.45,"d":3.2},{"s":"Pb p","seg":"c","e":2.58,"d":2.3},{"s":"Pb p","seg":"c","e":2.74,"d":1.1},{"s":"Pb p","seg":"c","e":2.85,"d":2.8},{"s":"Pb p","seg":"c","e":2.98,"d":3.0},{"s":"Pb p","seg":"c","e":3.11,"d":2.5},{"s":"Pb p","seg":"c","e":3.25,"d":1.3},{"s":"Pb p","seg":"c","e":3.38,"d":1.7},{"s":"Pb p","seg":"c","e":3.47,"d":1.1},{"s":"Pb p","seg":"c","e":3.54,"d":1.7},{"s":"Pb p","seg":"c","e":3.6,"d":1.3},{"s":"Pb p","seg":"c","e":3.78,"d":2.1},{"s":"Pb p","seg":"c","e":3.8,"d":1.5},{"s":"Pb p","seg":"c","e":3.96,"d":2.1},{"s":"Pb p","seg":"c","e":4.03,"d":1.7},{"s":"Pb p","seg":"c","e":4.14,"d":2.3},{"s":"Pb p","seg":"c","e":4.21,"d":1.9},{"s":"Pb p","seg":"c","e":4.32,"d":2.6},{"s":"Pb p","seg":"c","e":4.43,"d":2.5},{"s":"Pb p","seg":"c","e":4.5,"d":3.2},{"s":"Pb p","seg":"c","e":4.65,"d":2.8},{"s":"Pb p","seg":"c","e":4.76,"d":1.9},{"s":"Pb p","seg":"c","e":4.98,"d":0.95},{"s":"Pb p","seg":"c","e":5.1,"d":0.7},
{"s":"Pb p","seg":"v","e":-0.25,"d":0},{"s":"Pb p","seg":"v","e":-0.5,"d":0.05},{"s":"Pb p","seg":"v","e":-1.0,"d":0.2},{"s":"Pb p","seg":"v","e":-1.27,"d":0.38},{"s":"Pb p","seg":"v","e":-1.63,"d":0.38},{"s":"Pb p","seg":"v","e":-1.94,"d":0.75},{"s":"Pb p","seg":"v","e":-2.16,"d":0.57},{"s":"Pb p","seg":"v","e":-2.34,"d":1.1},{"s":"Pb p","seg":"v","e":-2.52,"d":0.95},{"s":"Pb p","seg":"v","e":-2.7,"d":1.3},{"s":"Pb p","seg":"v","e":-2.99,"d":1.7},{"s":"Pb p","seg":"v","e":-3.12,"d":0.95},{"s":"Pb p","seg":"v","e":-3.23,"d":0.2},{"s":"Pb p","seg":"v","e":-3.3,"d":0}
]},
"hconcat":[
{"width":615,"height":674,
"data":{"name":"bands"},
"mark":{"type":"line","interpolate":"monotone","strokeWidth":2,"clip":true},
"encoding":{
"x":{"field":"k","type":"quantitative","scale":{"domain":[0,1,2,3,4,5,6,7,8,9],"range":[0,73.3,142,214.3,283.3,332,405,473.3,546,615],"nice":false,"zero":false},
"axis":{"values":[0,1,2,3,4,5,6,7,8,9],"labelExpr":"['Γ','X','S','Y','Γ','Z','U','R','T','Z'][datum.value]","grid":true,"gridColor":"#000","gridWidth":1.2,"gridOpacity":1,"ticks":false,"domain":false,"title":"k-points","labelPadding":4,"titlePadding":2,"labelFlush":false}},
"y":{"field":"e","type":"quantitative","scale":{"domain":[-4,5],"nice":false,"zero":false},
"axis":{"values":[-4,-3,-2,-1,0,1,2,3,4,5],"grid":true,"gridColor":{"condition":{"test":"datum.value === 0","value":"#444"},"value":"#9a9a9a"},"gridDash":[2,3],"gridWidth":1,"ticks":false,"domain":false,"title":"E−Eƒ   /   eV","titleFontStyle":"italic","titleFontSize":25,"labelPadding":6,"titlePadding":18,"labelFlush":false}},
"color":{"field":"ch","type":"nominal","scale":{"domain":["c1","c2","c3","c4","c5","c6","c7","v1","v2","v3"],"range":["#d8281a","#b5421a","#a05a16","#946c18","#877c18","#4e5a18","#223d14","#1ee21e","#2cc02a","#3db22e"]},"legend":null},
"detail":{"field":"b"}}
},
{"width":308,"height":674,
"data":{"name":"dos"},
"encoding":{
"x":{"field":"d","type":"quantitative","scale":{"domain":[0,35],"nice":false,"zero":false},
"axis":{"values":[5,10,15,20,25,30,35],"grid":true,"gridColor":"#9a9a9a","gridDash":[2,3],"ticks":false,"domain":false,"title":"Density of States","labelPadding":4,"titlePadding":2,"labelFlush":false}},
"y":{"field":"e","type":"quantitative","scale":{"domain":[-4,5],"nice":false,"zero":false},
"axis":{"values":[-4,-3,-2,-1,0,1,2,3,4,5],"grid":true,"gridColor":{"condition":{"test":"datum.value === 0","value":"#444"},"value":"#9a9a9a"},"gridDash":[2,3],"labels":false,"ticks":false,"domain":false,"title":null}}},
"layer":[
{"transform":[{"filter":"datum.s === 'total DOS' && datum.seg === 'v'"}],
"mark":{"type":"area","orient":"horizontal","color":"#aaaaaa","clip":true},
"encoding":{"x":{"field":"d","type":"quantitative","stack":null}}},
{"mark":{"type":"line","strokeWidth":2,"clip":true},
"encoding":{
"color":{"field":"s","type":"nominal","scale":{"domain":["Pb p","I p","total DOS"],"range":["#ff1a1a","#22ee22","#666666"]},
"legend":{"title":null,"orient":"none","legendX":104,"legendY":13,"symbolType":"stroke","symbolSize":1024,"symbolStrokeWidth":2,"labelFont":"DejaVu Serif","labelFontSize":23,"labelColor":"#111","labelOffset":26,"padding":4,"symbolOffset":10,"strokeColor":"#000","fillColor":"#fff","cornerRadius":4,"rowPadding":6}},
"detail":{"field":"seg"},
"order":{"field":"e","type":"quantitative"}}}
]}
]
}
